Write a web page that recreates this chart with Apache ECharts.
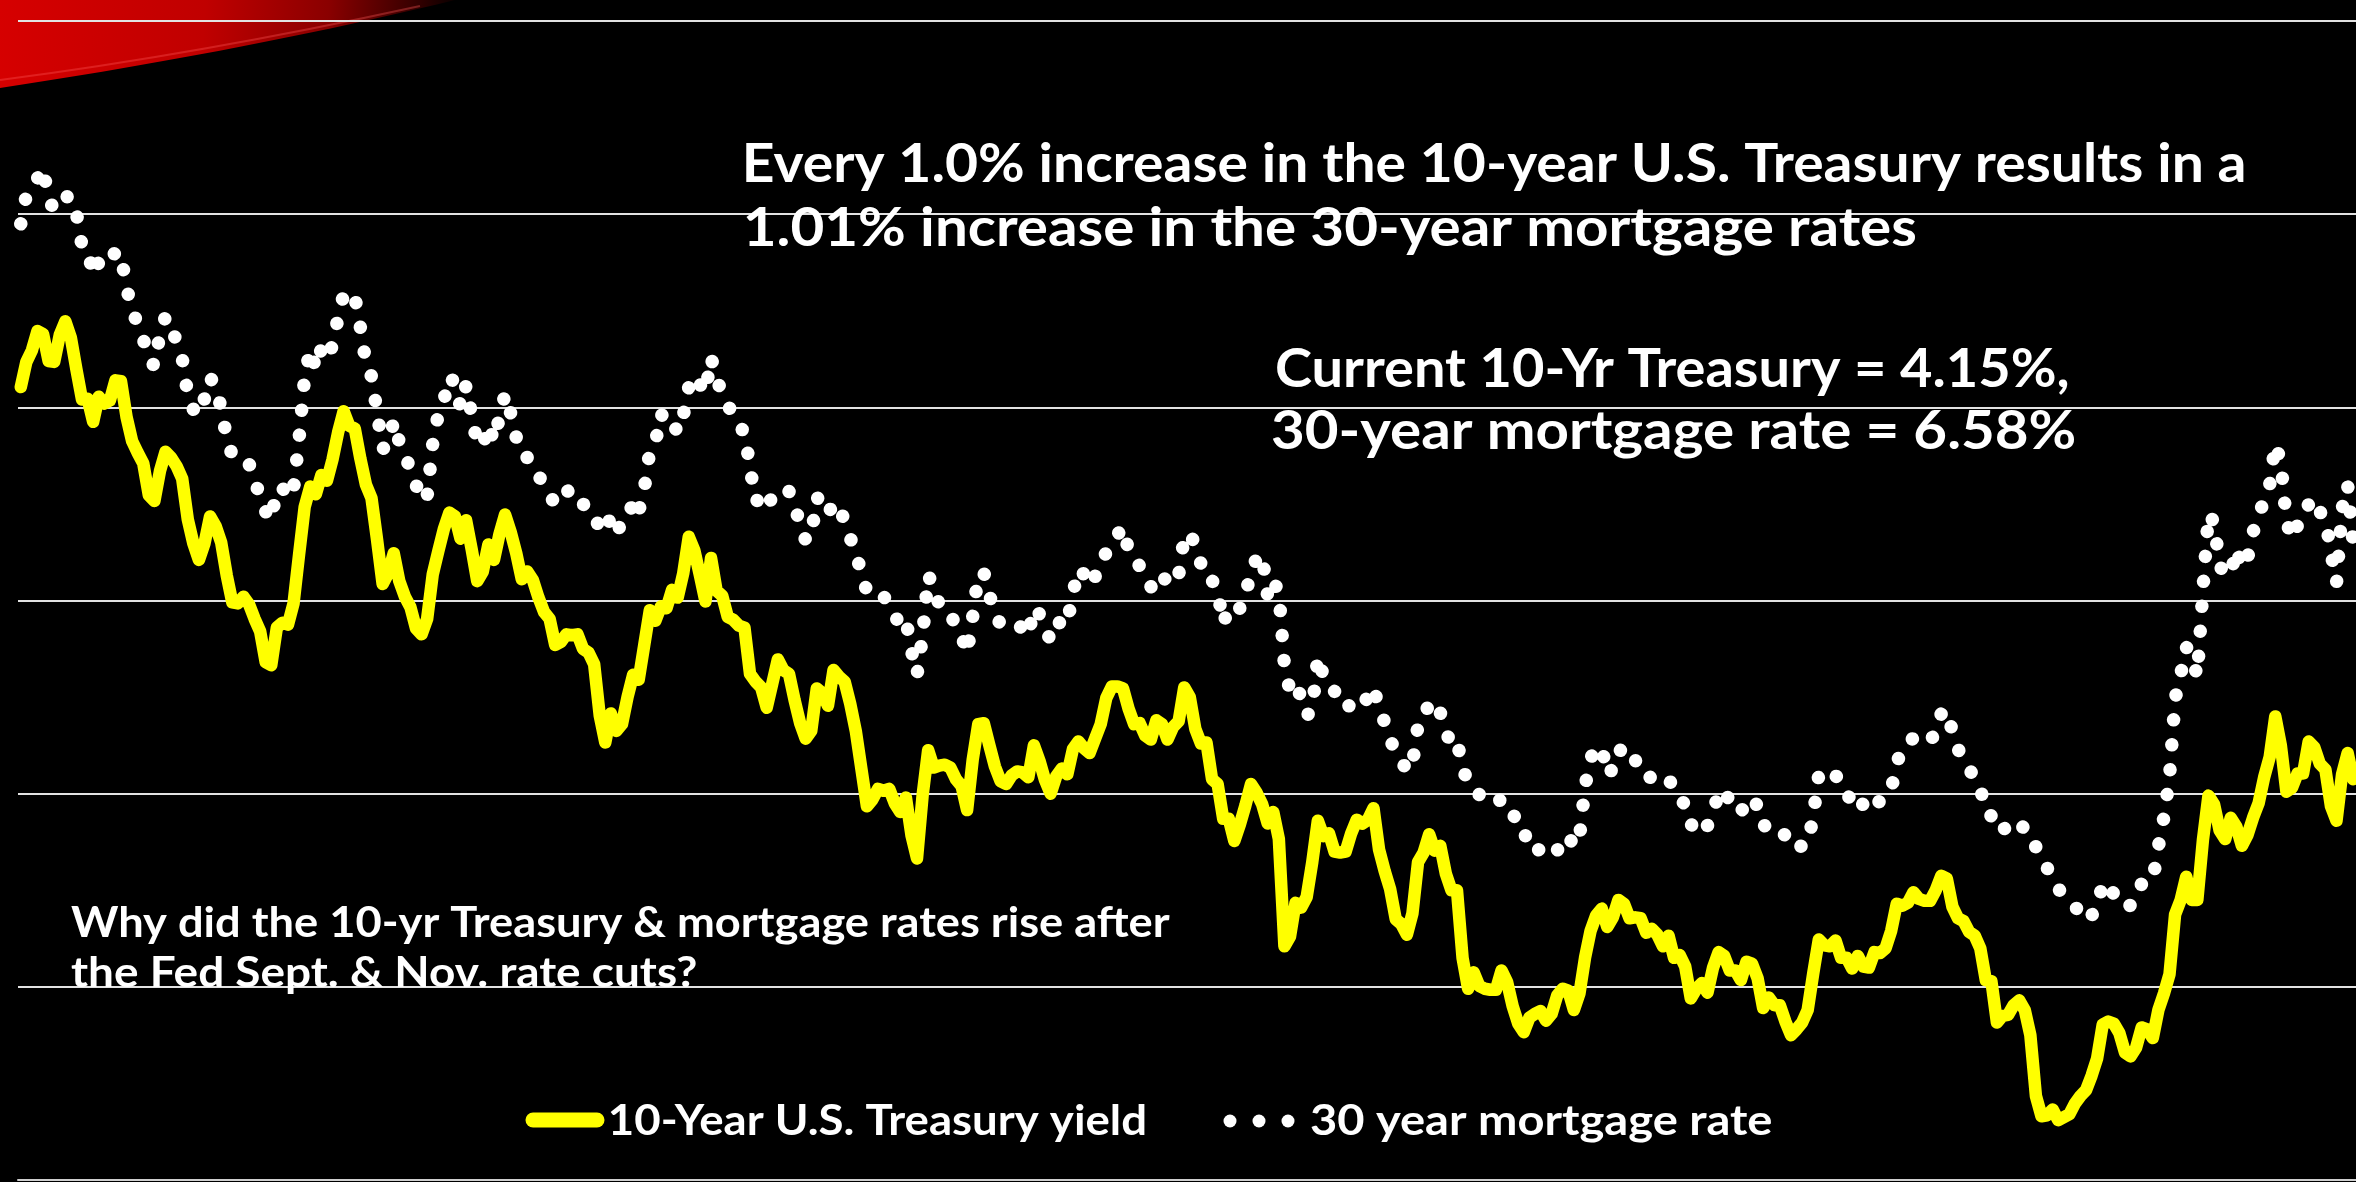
<!DOCTYPE html>
<html>
<head>
<meta charset="utf-8">
<title>10-Year Treasury vs 30-Year Mortgage Rate</title>
<script src="https://cdn.jsdelivr.net/npm/echarts@6.0.0/dist/echarts.min.js"></script>
<style>
  html, body { margin: 0; padding: 0; background: #000; }
  #chart { width: 2356px; height: 1182px; }
</style>
</head>
<body>
<div id="chart"></div>
<script>
// ---- data: monthly averages, Jan 1990 – Dec 2024 (percent) ----
const firstYear = 1990;
const lastYear = 2024;
const monthNames = ['Jan', 'Feb', 'Mar', 'Apr', 'May', 'Jun', 'Jul', 'Aug', 'Sep', 'Oct', 'Nov', 'Dec'];
const seriesNames = ['10-Year U.S. Treasury yield', '30 year mortgage rate'];

const treasury1990s = [
  8.21, 8.47, 8.59, 8.79, 8.76, 8.48, 8.47, 8.75, 8.89, 8.72, 8.39, 8.08,
  8.09, 7.85, 8.11, 8.04, 8.07, 8.28, 8.27, 7.90, 7.65, 7.53, 7.42, 7.09,
  7.03, 7.34, 7.54, 7.48, 7.39, 7.26, 6.84, 6.59, 6.42, 6.59, 6.87, 6.77,
  6.60, 6.26, 5.98, 5.97, 6.04, 5.96, 5.81, 5.68, 5.36, 5.33, 5.72, 5.77,
  5.75, 5.97, 6.48, 6.97, 7.18, 7.10, 7.30, 7.24, 7.46, 7.74, 7.96, 7.81,
  7.78, 7.47, 7.20, 7.06, 6.63, 6.17, 6.28, 6.49, 6.20, 6.04, 5.93, 5.71,
  5.65, 5.81, 6.27, 6.51, 6.74, 6.91, 6.87, 6.64, 6.83, 6.53, 6.20, 6.30,
  6.58, 6.42, 6.69, 6.89, 6.71, 6.49, 6.22, 6.30, 6.21, 6.03, 5.88, 5.81,
  5.54, 5.57, 5.65, 5.64, 5.65, 5.50, 5.46, 5.34, 4.81, 4.53, 4.83, 4.65,
  4.72, 5.00, 5.23, 5.18, 5.54, 5.90, 5.79, 5.94, 5.92, 6.11, 6.03, 6.28
];
const treasury2000s = [
  6.66, 6.52, 6.26, 5.99, 6.44, 6.10, 6.05, 5.83, 5.80, 5.74, 5.72, 5.24,
  5.16, 5.10, 4.89, 5.14, 5.39, 5.28, 5.24, 4.97, 4.73, 4.57, 4.65, 5.09,
  5.04, 4.91, 5.28, 5.21, 5.16, 4.93, 4.65, 4.26, 3.87, 3.94, 4.05, 4.03,
  4.05, 3.90, 3.81, 3.96, 3.57, 3.33, 3.98, 4.45, 4.27, 4.29, 4.30, 4.27,
  4.15, 4.08, 3.83, 4.35, 4.72, 4.73, 4.50, 4.28, 4.13, 4.10, 4.19, 4.23,
  4.22, 4.17, 4.50, 4.34, 4.14, 4.00, 4.18, 4.26, 4.20, 4.46, 4.54, 4.47,
  4.42, 4.57, 4.72, 4.99, 5.11, 5.11, 5.09, 4.88, 4.72, 4.73, 4.60, 4.56,
  4.76, 4.72, 4.56, 4.69, 4.75, 5.10, 5.00, 4.67, 4.52, 4.53, 4.15, 4.10,
  3.74, 3.74, 3.51, 3.68, 3.88, 4.10, 4.01, 3.89, 3.69, 3.81, 3.53, 2.42,
  2.52, 2.87, 2.82, 2.93, 3.29, 3.72, 3.56, 3.59, 3.40, 3.39, 3.40, 3.59
];
const treasury2010s = [
  3.73, 3.69, 3.73, 3.85, 3.42, 3.20, 3.01, 2.70, 2.65, 2.54, 2.76, 3.29,
  3.39, 3.58, 3.41, 3.46, 3.17, 3.00, 3.00, 2.30, 1.98, 2.15, 2.01, 1.98,
  1.97, 1.97, 2.17, 2.05, 1.80, 1.62, 1.53, 1.68, 1.72, 1.75, 1.65, 1.72,
  1.91, 1.98, 1.96, 1.76, 1.93, 2.30, 2.58, 2.74, 2.81, 2.62, 2.72, 2.90,
  2.86, 2.71, 2.72, 2.71, 2.56, 2.60, 2.54, 2.42, 2.53, 2.30, 2.33, 2.21,
  1.88, 1.98, 2.04, 1.94, 2.20, 2.36, 2.32, 2.17, 2.17, 2.07, 2.26, 2.24,
  2.09, 1.78, 1.89, 1.81, 1.81, 1.64, 1.50, 1.56, 1.63, 1.76, 2.14, 2.49,
  2.43, 2.42, 2.48, 2.30, 2.30, 2.19, 2.32, 2.21, 2.20, 2.36, 2.35, 2.40,
  2.58, 2.86, 2.84, 2.87, 2.98, 2.91, 2.89, 2.89, 3.00, 3.15, 3.12, 2.83,
  2.71, 2.68, 2.57, 2.53, 2.40, 2.07, 2.06, 1.63, 1.70, 1.71, 1.81, 1.86
];
const treasury2020s = [
  1.76, 1.50, 0.87, 0.66, 0.67, 0.73, 0.62, 0.65, 0.68, 0.79, 0.87, 0.93,
  1.08, 1.26, 1.61, 1.64, 1.62, 1.52, 1.32, 1.28, 1.37, 1.58, 1.56, 1.47,
  1.76, 1.93, 2.13, 2.75, 2.90, 3.14, 2.90, 2.90, 3.52, 3.98, 3.89, 3.62,
  3.53, 3.75, 3.66, 3.46, 3.57, 3.75, 3.90, 4.17, 4.38, 4.80, 4.50, 4.02,
  4.06, 4.21, 4.21, 4.54, 4.48, 4.31, 4.25, 3.87, 3.72, 4.20, 4.42, 4.15
];

const mortgage1990s = [
  9.90, 10.20, 10.27, 10.37, 10.48, 10.16, 10.04, 10.10, 10.18, 10.18, 10.01, 9.67,
  9.64, 9.37, 9.50, 9.49, 9.47, 9.62, 9.58, 9.24, 9.01, 8.86, 8.71, 8.50,
  8.43, 8.76, 8.94, 8.85, 8.67, 8.51, 8.13, 7.98, 7.92, 8.09, 8.31, 8.22,
  7.99, 7.68, 7.50, 7.47, 7.47, 7.42, 7.21, 7.11, 6.92, 6.83, 7.16, 7.17,
  7.06, 7.15, 7.68, 8.32, 8.60, 8.40, 8.61, 8.51, 8.64, 8.93, 9.17, 9.20,
  9.15, 8.83, 8.46, 8.32, 7.96, 7.57, 7.61, 7.86, 7.64, 7.48, 7.38, 7.20,
  7.03, 7.08, 7.62, 7.93, 8.07, 8.32, 8.25, 8.00, 8.23, 7.92, 7.62, 7.60,
  7.82, 7.65, 7.90, 8.14, 7.94, 7.69, 7.50, 7.48, 7.43, 7.29, 7.21, 7.10,
  6.99, 7.04, 7.13, 7.14, 7.14, 7.00, 6.95, 6.92, 6.72, 6.71, 6.87, 6.72,
  6.79, 6.81, 7.04, 6.92, 7.15, 7.55, 7.63, 7.94, 7.82, 7.85, 7.74, 7.91
];
const mortgage2000s = [
  8.21, 8.33, 8.24, 8.15, 8.52, 8.29, 8.15, 8.03, 7.91, 7.80, 7.75, 7.38,
  7.03, 7.05, 6.95, 7.08, 7.15, 7.16, 7.13, 6.95, 6.82, 6.62, 6.66, 7.07,
  7.00, 6.89, 7.01, 6.99, 6.81, 6.65, 6.49, 6.29, 6.09, 6.11, 6.07, 6.05,
  5.92, 5.84, 5.75, 5.81, 5.48, 5.23, 5.63, 6.26, 6.15, 5.95, 5.93, 5.88,
  5.71, 5.64, 5.45, 5.83, 6.27, 6.29, 6.06, 5.87, 5.75, 5.72, 5.73, 5.75,
  5.71, 5.63, 5.93, 5.86, 5.72, 5.58, 5.70, 5.82, 5.77, 6.07, 6.33, 6.27,
  6.15, 6.25, 6.32, 6.51, 6.60, 6.68, 6.76, 6.52, 6.40, 6.36, 6.24, 6.14,
  6.22, 6.29, 6.16, 6.18, 6.26, 6.66, 6.70, 6.57, 6.38, 6.38, 6.21, 6.10,
  5.76, 5.92, 5.97, 5.92, 6.04, 6.32, 6.43, 6.48, 6.04, 6.20, 6.09, 5.33,
  5.06, 5.13, 5.00, 4.81, 4.86, 5.42, 5.22, 5.19, 5.06, 4.95, 4.88, 4.93
];
const mortgage2010s = [
  5.03, 4.99, 4.97, 5.10, 4.89, 4.74, 4.56, 4.43, 4.35, 4.23, 4.30, 4.71,
  4.76, 4.95, 4.84, 4.84, 4.64, 4.51, 4.55, 4.27, 4.11, 4.07, 3.99, 3.96,
  3.92, 3.89, 3.95, 3.91, 3.80, 3.68, 3.55, 3.60, 3.50, 3.38, 3.35, 3.35,
  3.41, 3.53, 3.57, 3.45, 3.54, 4.07, 4.37, 4.46, 4.49, 4.19, 4.26, 4.46,
  4.43, 4.30, 4.34, 4.34, 4.19, 4.16, 4.13, 4.12, 4.16, 4.04, 4.00, 3.86,
  3.67, 3.71, 3.77, 3.67, 3.84, 3.98, 4.05, 3.91, 3.89, 3.80, 3.94, 3.96,
  3.87, 3.66, 3.69, 3.61, 3.60, 3.57, 3.44, 3.44, 3.46, 3.47, 3.77, 4.20,
  4.15, 4.17, 4.20, 4.05, 4.01, 3.90, 3.97, 3.88, 3.81, 3.90, 3.92, 3.95,
  4.03, 4.33, 4.44, 4.47, 4.59, 4.57, 4.53, 4.55, 4.63, 4.83, 4.87, 4.64,
  4.46, 4.37, 4.27, 4.14, 4.07, 3.80, 3.77, 3.62, 3.61, 3.69, 3.70, 3.72
];
const mortgage2020s = [
  3.62, 3.47, 3.45, 3.31, 3.23, 3.16, 3.02, 2.94, 2.89, 2.83, 2.77, 2.68,
  2.74, 2.81, 3.08, 3.06, 2.96, 2.98, 2.87, 2.84, 2.90, 3.07, 3.07, 3.10,
  3.45, 3.76, 4.17, 4.98, 5.23, 5.52, 5.41, 5.22, 6.11, 6.90, 6.81, 6.36,
  6.27, 6.26, 6.54, 6.34, 6.43, 6.71, 6.84, 7.07, 7.20, 7.62, 7.44, 6.82,
  6.64, 6.78, 6.82, 7.00, 7.06, 6.92, 6.85, 6.50, 6.18, 6.95, 7.20, 6.58
];

// ---- assemble ----
const months = [];
for (let y = firstYear; y <= lastYear; y++) {
  monthNames.forEach(m => months.push(m + ' ' + y));
}
const treasury = [].concat(treasury1990s, treasury2000s, treasury2010s, treasury2020s);
const mortgage = [].concat(mortgage1990s, mortgage2000s, mortgage2010s, mortgage2020s);
const currentTreasury = treasury[treasury.length - 1].toFixed(2);
const currentMortgage = mortgage[mortgage.length - 1].toFixed(2);

// ---- text helpers: fit a bold label into a given horizontal span ----
const FONT_FAMILY = 'Lato';
const measureCtx = document.createElement('canvas').getContext('2d');

function fittedText(text, left, right, baseline, size) {
  const font = 'bold ' + size + 'px ' + FONT_FAMILY;
  measureCtx.font = font;
  measureCtx.textBaseline = 'alphabetic';
  const m = measureCtx.measureText(text);
  const capAlpha = measureCtx.measureText('H').actualBoundingBoxAscent;
  measureCtx.textBaseline = 'middle';
  const capMiddle = measureCtx.measureText('H').actualBoundingBoxAscent;
  const midOffset = capAlpha - capMiddle;
  const inkWidth = m.actualBoundingBoxRight + m.actualBoundingBoxLeft;
  const sx = (right - left) / inkWidth;
  return {
    type: 'text',
    z: 50,
    x: left + m.actualBoundingBoxLeft * sx,
    y: baseline - midOffset,
    scaleX: sx,
    scaleY: 1,
    silent: true,
    style: {
      text: text,
      font: font,
      fill: '#ffffff',
      align: 'left',
      verticalAlign: 'middle'
    }
  };
}

const headline = [
  fittedText('Every 1.0% increase in the 10-year U.S. Treasury results in a', 746, 2244, 182, 54),
  fittedText('1.01% increase in the 30-year mortgage rates', 746, 1915, 246, 54),
  fittedText('Current 10-Yr Treasury = ' + currentTreasury + '%,', 1277, 2068, 387, 54),
  fittedText('30-year mortgage rate = ' + currentMortgage + '%', 1272, 2075, 449, 54),
  fittedText('Why did the 10-yr Treasury & mortgage rates rise after', 71, 1170, 937, 42),
  fittedText('the Fed Sept. & Nov. rate cuts?', 71, 696, 987, 42)
];

// legend row drawn at the bottom of the slide
const legendRow = [
  {
    type: 'line', z: 50, silent: true,
    shape: { x1: 533, y1: 1120, x2: 597, y2: 1120 },
    style: { stroke: '#ffff00', lineWidth: 15, lineCap: 'round' }
  },
  fittedText(seriesNames[0], 610, 1145, 1135, 42),
  { type: 'circle', z: 50, silent: true, shape: { cx: 1230, cy: 1121, r: 6.5 }, style: { fill: '#ffffff' } },
  { type: 'circle', z: 50, silent: true, shape: { cx: 1259, cy: 1121, r: 6.5 }, style: { fill: '#ffffff' } },
  { type: 'circle', z: 50, silent: true, shape: { cx: 1288, cy: 1121, r: 6.5 }, style: { fill: '#ffffff' } },
  fittedText(seriesNames[1], 1311, 1772, 1135, 42)
];

// red swoosh in the top-left corner of the slide (quadratic lower edge sampled into a polygon)
function swooshOutline() {
  const pts = [[0, 0], [455, 0]];
  const p0 = [455, 0], c = [250, 50], p1 = [0, 88];
  for (let i = 1; i <= 24; i++) {
    const t = i / 24, u = 1 - t;
    pts.push([u * u * p0[0] + 2 * u * t * c[0] + t * t * p1[0],
              u * u * p0[1] + 2 * u * t * c[1] + t * t * p1[1]]);
  }
  return pts;
}
const swoosh = [
  {
    type: 'polygon', z: -5, silent: true,
    shape: { points: swooshOutline() },
    style: {
      fill: {
        type: 'linear', x: 0, y: 0, x2: 1, y2: 0.35,
        colorStops: [
          { offset: 0, color: '#d60000' },
          { offset: 0.45, color: '#c00000' },
          { offset: 0.72, color: '#8a0000' },
          { offset: 0.9, color: '#3a0000' },
          { offset: 1, color: '#080000' }
        ]
      }
    }
  },
  {
    type: 'bezierCurve', z: -4, silent: true,
    shape: { x1: 0, y1: 80, cpx1: 200, cpy1: 54, x2: 420, y2: 6 },
    style: { fill: null, stroke: 'rgba(255,90,90,0.35)', lineWidth: 2 }
  }
];

const chart = echarts.init(document.getElementById('chart'), null, { renderer: 'canvas' });
chart.setOption({
  backgroundColor: '#000000',
  animation: false,
  grid: { left: 18, right: 0, top: 21, bottom: 2 },
  xAxis: {
    type: 'category',
    data: months,
    boundaryGap: true,
    axisLine: { show: true, lineStyle: { color: '#cfcfcf', width: 2 } },
    axisTick: { show: false },
    axisLabel: { show: false },
    splitLine: { show: false }
  },
  yAxis: {
    type: 'value',
    min: 0,
    max: 12,
    interval: 2,
    axisLine: { show: false },
    axisTick: { show: false },
    axisLabel: { show: false },
    splitLine: { show: true, lineStyle: { color: '#e2e2e2', width: 2 } }
  },
  series: [
    {
      name: seriesNames[1],
      type: 'line',
      data: mortgage,
      symbol: 'none',
      z: 3,
      lineStyle: { color: '#ffffff', width: 13.5, type: [0.01, 25], cap: 'round', join: 'round' }
    },
    {
      name: seriesNames[0],
      type: 'line',
      data: treasury,
      symbol: 'none',
      z: 4,
      lineStyle: { color: '#ffff00', width: 12.5, cap: 'round', join: 'round' }
    }
  ],
  graphic: { elements: swoosh.concat(headline, legendRow) }
});
</script>
</body>
</html>
